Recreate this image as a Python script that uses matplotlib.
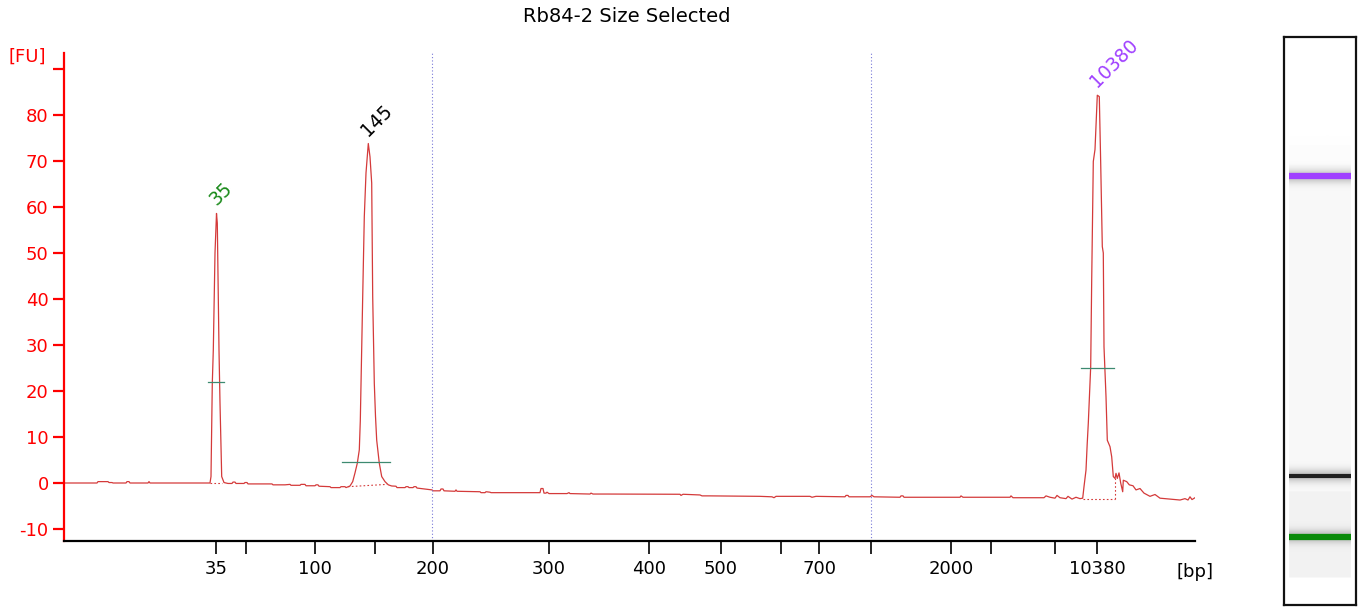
import numpy as np
import matplotlib.pyplot as plt

plt.rcParams['font.family'] = 'DejaVu Sans'

title = 'Rb84-2 Size Selected'

# electropherogram trace (migration position, fluorescence [FU])
pos = [64, 97, 98, 108, 109, 112, 113, 126, 127, 129, 130, 148, 149, 150, 208, 210,
       211, 212.3, 213.3, 215, 216.5, 217.3, 218, 219, 220, 221.7, 224, 228, 232, 233,
       235, 236, 244, 245, 247, 248, 272, 273, 285, 290, 291, 300, 301, 305, 306, 315,
       316, 318, 319, 330, 331, 340, 341, 345, 346, 350,
       352.7, 355, 357.3, 359.3, 360.3, 361, 362.7, 364.3, 366, 368.3, 370, 371.7, 372.7,
       374.3, 375.5, 376.7, 379.3, 381.7, 385, 388.3, 391.7, 396, 397, 405, 406, 408, 409,
       413, 414, 416, 417, 432, 433, 440, 441, 443, 444, 455, 456, 457, 480, 481, 485,
       486, 490, 491, 540, 541, 543, 544, 546, 547, 549, 567, 569, 570, 590, 591, 593,
       607, 680, 681, 683, 700, 702, 710, 760, 772, 774, 776, 810, 812, 816, 845, 846,
       848, 849, 870, 872, 874, 900, 901, 903, 904, 960, 961, 963, 1010, 1011, 1013,
       1044, 1046, 1050, 1055, 1057, 1060, 1066, 1068, 1072, 1076, 1080,
       1082.7, 1084, 1086, 1087.2, 1088.3, 1090.7, 1091.7, 1092.6, 1093.3, 1095, 1097.3, 1099.3,
       1100.7, 1102.3, 1103.3, 1104, 1106, 1107.3, 1110, 1111.7, 1113.3, 1115, 1116,
       1117.3, 1119, 1120.7, 1122.7, 1123.3, 1126.7, 1129.3, 1133, 1136, 1140, 1144,
       1150, 1155, 1160, 1165, 1170, 1175, 1180, 1185, 1188, 1190, 1192, 1195]
fu = [0, 0, 0.3, 0.3, 0.1, 0.1, 0, 0, 0.3, 0.3, 0, 0, 0.3, 0, 0, 0,
      1.4, 21.7, 28.9, 50, 58.6, 56.5, 45, 28.9, 17.4, 1.4, 0.1, -0.1, -0.1, 0.2,
      0.2, -0.1, -0.1, 0.1, 0.1, -0.2, -0.2, -0.4, -0.4, -0.3, -0.5, -0.5, -0.3, -0.3, -0.6, -0.6,
      -0.4, -0.4, -0.7, -0.8, -1.0, -1.0, -0.8, -0.8, -1.0, -0.65,
      0.3, 2.2, 4.3, 7.2, 13.5, 21.7, 40.5, 57.9, 67.4, 73.8, 70.9, 65.2, 40.5,
      21.7, 14.5, 9.3, 4.3, 1.4, 0.3, -0.4, -0.65, -0.7, -1.0, -1.0, -0.8, -0.8, -1.0,
      -1.0, -0.8, -0.8, -1.1, -1.5, -1.7, -1.7, -1.3, -1.3, -1.7, -1.8, -1.5, -1.8, -1.9, -2.1, -2.1,
      -1.9, -2.0, -2.1, -2.1, -1.2, -1.2, -2.2, -2.2, -2.0, -2.3, -2.3, -2.1, -2.3, -2.4, -2.2, -2.4,
      -2.4, -2.45, -2.7, -2.45, -2.6, -2.8, -2.8, -2.9, -3.0, -3.2, -2.9, -2.9, -3.1, -2.9, -3.0, -2.7,
      -2.7, -3.0, -3.0, -2.7, -3.0, -3.1, -2.8, -2.8, -3.1, -3.1, -2.8, -3.1, -3.1, -2.8, -3.2,
      -3.2, -2.8, -3.1, -3.3, -2.7, -3.2, -3.4, -2.9, -3.5, -3.1, -3.4,
      -3.3, -0.8, 2.8, 8.5, 13, 25.3, 44.1, 58.0, 69.9, 72.5, 84.3, 84.0,
      69.5, 51.4, 50, 29.6, 18.8, 9.3, 7.9, 5.7, 1.4, 1.0, 2.1,
      1.0, 2.2, 0.0, -1.9, 0.6, 0.3, -0.4, -0.6, -1.5, -1.2, -2.2,
      -2.9, -2.5, -3.3, -3.4, -3.5, -3.6, -3.7, -3.4, -3.7, -3.0, -3.6, -3.2]

# peaks
peak_pos = [216.5, 368.3, 1097.3]
peak_fu = [58.6, 73.8, 84.3]
peak_lbl = ['35', '145', '10380']
peak_col = ['#1a8a1a', '#000000', '#a040ff']

# peak width markers and peak baselines
half_lo = [208.3, 342.3, 1081]
half_hi = [224, 390, 1114.3]
half_fu = [21.9, 4.5, 25.1]
base_lo = [210, 348, 1083]
base_hi = [222, 387, 1115]
base_lo_fu = [0, -0.8, -3.4]
base_hi_fu = [0, -0.3, -3.4]
tail_fu = 1.0

# region markers
region_pos = [432, 871]

# x axis ticks
xtick_pos = [216, 246, 315, 375, 433, 549, 649, 721, 781, 819, 871, 951, 991, 1055, 1097]
xtick_lbl = ['35', '', '100', '', '200', '300', '400', '500', '', '700', '', '2000', '', '', '10380']
ytick_val = [-10, 0, 10, 20, 30, 40, 50, 60, 70, 80, 90]
ytick_lbl = ['-10', '0', '10', '20', '30', '40', '50', '60', '70', '80', '']

# gel lane: band positions (fraction of lane height from top)
band_y = [0.245, 0.773, 0.880]
band_col = ['#a040ff', '#202020', '#0a8a0a']

W, H = 1363, 609
fig = plt.figure(figsize=(W / 100, H / 100), dpi=100)
ax = fig.add_axes([64 / W, (H - 541) / H, (1195 - 64) / W, (541 - 53) / H])

red = '#ff0000'
trace_col = '#d43a3a'
ax.plot(pos, fu, color=trace_col, lw=0.9)

for x in region_pos:
    ax.axvline(x, color='#7878d8', ls=(0, (1, 2)), lw=0.8)

for i in range(len(peak_pos)):
    ax.plot([half_lo[i], half_hi[i]], [half_fu[i], half_fu[i]], color='#3d8a70', lw=0.9)
    ax.plot([base_lo[i], base_hi[i]], [base_lo_fu[i], base_hi_fu[i]], color=trace_col,
            ls=(0, (1.5, 2)), lw=0.8)
    ax.annotate(peak_lbl[i], xy=(peak_pos[i], peak_fu[i]), xytext=(0, 5),
                textcoords='offset points', rotation=45, rotation_mode='anchor',
                ha='left', va='baseline', color=peak_col[i], fontsize=13.5)
ax.plot([base_hi[-1], base_hi[-1]], [base_hi_fu[-1], tail_fu], color=trace_col,
        ls=(0, (1.5, 2)), lw=0.8)

ax.set_xlim(64, 1195)
ax.set_ylim((483 - 541) / 4.6, (483 - 53) / 4.6)

for s in ['top', 'right']:
    ax.spines[s].set_visible(False)
ax.spines['left'].set_color(red)
ax.spines['left'].set_linewidth(1.6)
ax.spines['bottom'].set_color('black')
ax.spines['bottom'].set_linewidth(1.6)

ax.set_yticks(ytick_val)
ax.set_yticklabels(ytick_lbl)
ax.tick_params(axis='y', colors=red, length=8, width=1.6, labelsize=13, pad=3)
ax.set_xticks(xtick_pos)
ax.set_xticklabels(xtick_lbl)
ax.tick_params(axis='x', colors='black', length=9, width=1.2, labelsize=13, pad=5)

fig.text(1195 / W, 1 - 572 / H, '[bp]', ha='center', va='center', fontsize=13)
fig.text(27 / W, 1 - 57 / H, '[FU]', color=red, fontsize=13, ha='center', va='center')
fig.text(627 / W, 1 - 17 / H, title, fontsize=14, ha='center', va='center')

# gel lane
gax = fig.add_axes([1284 / W, (H - 605) / H, 72 / W, 568 / H])
gax.set_xlim(0, 1)
gax.set_ylim(1, 0)
gax.set_xticks([])
gax.set_yticks([])
for s in gax.spines.values():
    s.set_linewidth(1.6)
    s.set_color('#111111')

rows = np.linspace(0, 1, 600)
shade = np.ones_like(rows)
shade[(rows > 0.19) & (rows < 0.952)] = 0.975
shade[(rows > 0.19) & (rows < 0.225)] = 0.99
shade[(rows > 0.80) & (rows < 0.952)] = 0.95
for by, bc in zip(band_y, band_col):
    shade -= 0.22 * np.exp(-((rows - by) / 0.012) ** 2)
img = np.repeat(np.clip(shade, 0, 1)[:, None], 3, axis=1)[:, None, :]
gax.imshow(img, extent=(0.07, 0.93, 1, 0), aspect='auto', interpolation='bilinear')
for by, bc in zip(band_y, band_col):
    lw = 3.0 if bc == '#202020' else 4.5
    gax.plot([0.07, 0.93], [by, by], color=bc, lw=lw, solid_capstyle='butt')

fig.savefig('out.png', dpi=100)
